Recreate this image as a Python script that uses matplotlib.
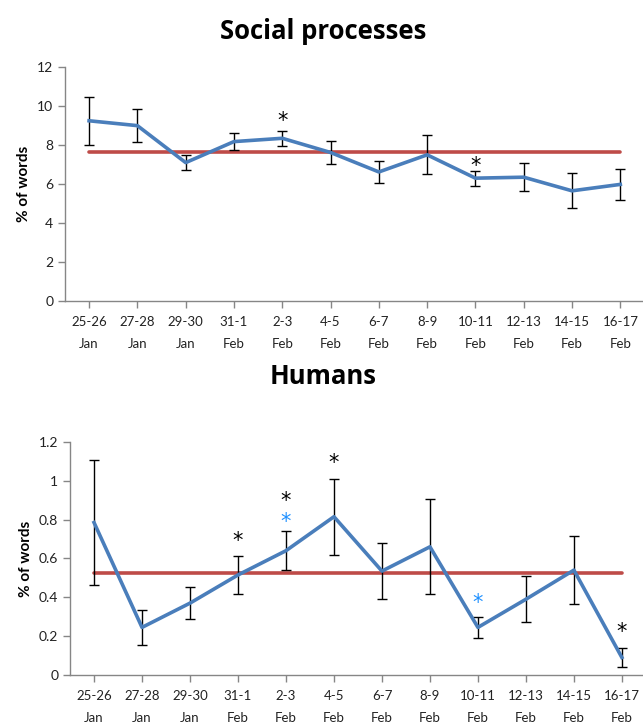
import matplotlib.pyplot as plt
import numpy as np

plt.rcParams['font.family'] = ['Lato', 'DejaVu Sans']

periods = ["25-26\nJan", "27-28\nJan", "29-30\nJan", "31-1\nFeb", "2-3\nFeb", "4-5\nFeb",
           "6-7\nFeb", "8-9\nFeb", "10-11\nFeb", "12-13\nFeb", "14-15\nFeb", "16-17\nFeb"]

social = [9.25, 9.0, 7.1, 8.18, 8.35, 7.62, 6.62, 7.5, 6.3, 6.35, 5.65, 5.98]
social_err = [1.22, 0.86, 0.4, 0.45, 0.4, 0.58, 0.56, 1.0, 0.38, 0.73, 0.89, 0.8]
social_mean = 7.63
social_stars = [(4, 9.5, "black"), (8, 7.23, "black")]

humans = [0.785, 0.245, 0.37, 0.515, 0.64, 0.815, 0.535, 0.66, 0.245, 0.39, 0.54, 0.09]
humans_err = [0.323, 0.089, 0.083, 0.1, 0.1, 0.195, 0.145, 0.245, 0.055, 0.118, 0.177, 0.05]
humans_mean = 0.524
humans_stars = [(3, 0.716, "black"), (4, 0.925, "black"), (4, 0.817, "#1E90FF"),
                (5, 1.121, "black"), (8, 0.40, "#1E90FF"), (11, 0.249, "black")]

blue = "#4A7EBB"
red = "#BE4B48"
axis_grey = "#868686"


def drawPanel(ax, values, errors, mean, stars, ylim, yticks, ticklabels):
    x = np.arange(len(values))
    ax.plot([x[0], x[-1]], [mean, mean], color=red, lw=2.6, solid_capstyle="round", zorder=2)
    ax.errorbar(x, values, yerr=errors, fmt="none", ecolor="black", elinewidth=1,
                capsize=3.5, capthick=1, zorder=3)
    ax.plot(x, values, color=blue, lw=2.6, zorder=4)
    for i, yv, c in stars:
        # the asterisk glyph sits high in its box, so nudge it down a little
        ax.annotate("*", (i, yv), xytext=(0, -4), textcoords="offset points",
                    color=c, fontsize=15, ha="center", va="center",
                    family="DejaVu Sans", zorder=5)
    ax.set_ylim(*ylim)
    ax.set_yticks(yticks)
    ax.set_yticklabels(ticklabels, fontsize=10, color="#222222")
    ax.set_xticks(x)
    ax.set_xticklabels(periods, fontsize=9.5, color="#222222", linespacing=2.0)
    ax.set_ylabel("% of words", fontsize=11, fontweight="bold", labelpad=4)
    for side in ["top", "right"]:
        ax.spines[side].set_visible(False)
    for side in ["left", "bottom"]:
        ax.spines[side].set_color(axis_grey)
        ax.spines[side].set_linewidth(1)
    ax.tick_params(axis="both", direction="out", length=5, color=axis_grey, width=1)
    ax.tick_params(axis="x", pad=6)


fig = plt.figure(figsize=(6.43, 7.25), dpi=100)
ax1 = fig.add_axes([0.101, 0.5852, 0.899, 0.322])
ax2 = fig.add_axes([0.1089, 0.069, 0.8911, 0.3214])

drawPanel(ax1, social, social_err, social_mean, social_stars,
          (0, 12), [0, 2, 4, 6, 8, 10, 12], ["0", "2", "4", "6", "8", "10", "12"])
ax1.set_xlim(-0.5, 11.47)

drawPanel(ax2, humans, humans_err, humans_mean, humans_stars,
          (0, 1.2), [0, 0.2, 0.4, 0.6, 0.8, 1.0, 1.2], ["0", "0.2", "0.4", "0.6", "0.8", "1", "1.2"])
ax2.set_xlim(-0.5, 11.44)

fig.text(0.503, 0.957, "Social processes", fontsize=18.5, fontweight="bold",
         ha="center", va="center", family=["Open Sans", "DejaVu Sans"])
fig.text(0.503, 0.481, "Humans", fontsize=18.5, fontweight="bold",
         ha="center", va="center", family=["Open Sans", "DejaVu Sans"])

fig.savefig("out.png", dpi=100)
